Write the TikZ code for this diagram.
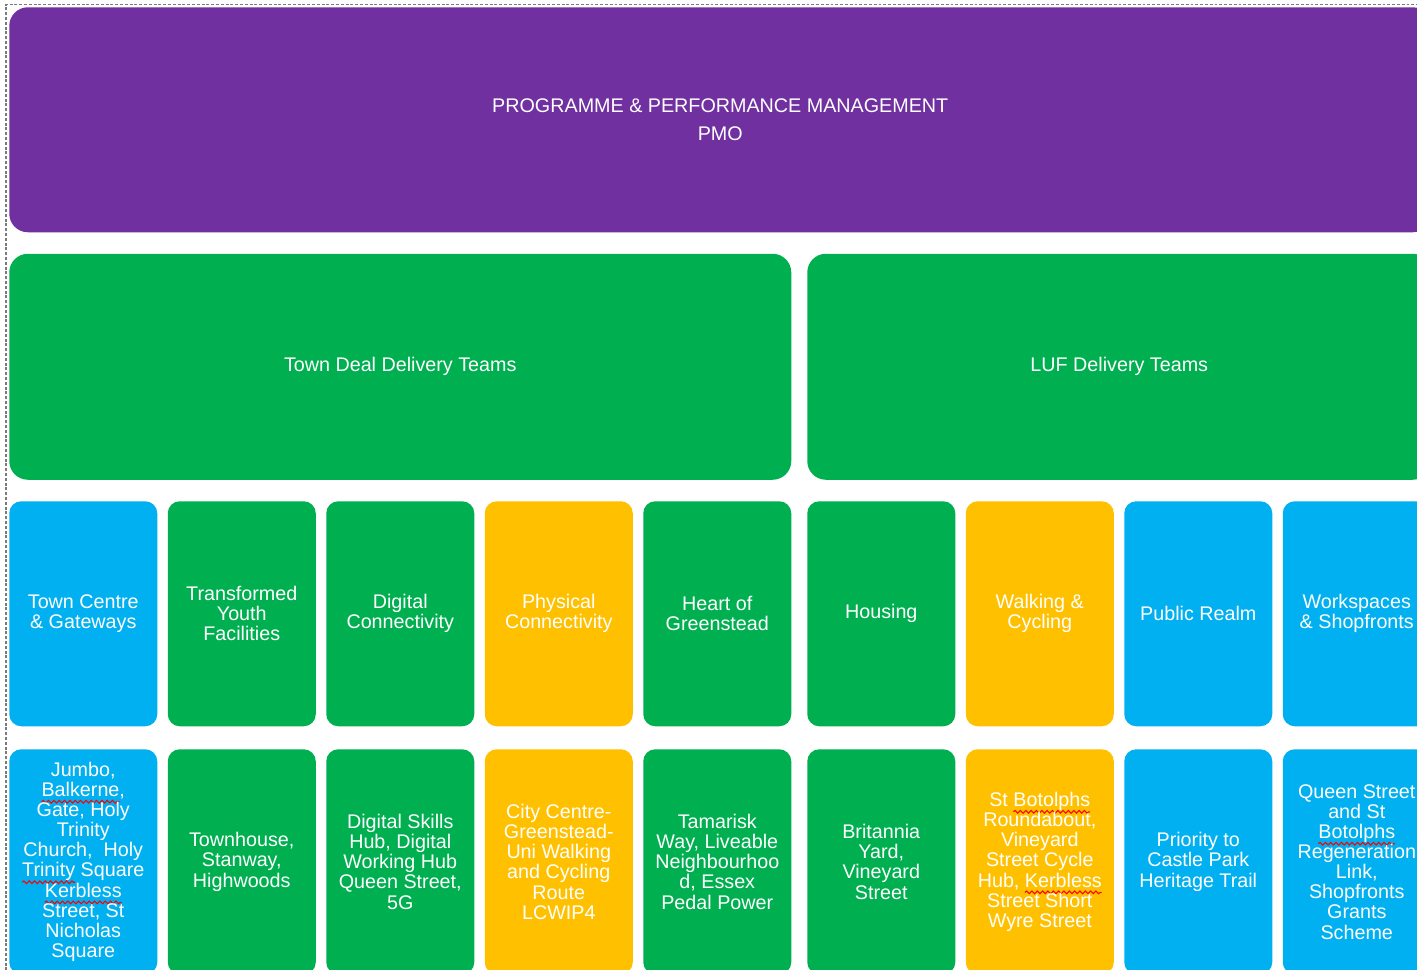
\documentclass[tikz,border=0pt]{standalone}
\usepackage{fontspec}
\setmainfont{Liberation Sans}
\usetikzlibrary{decorations.pathmorphing}
\definecolor{pmocol}{HTML}{7030A0}
\definecolor{grncol}{HTML}{00B050}
\definecolor{blucol}{HTML}{00B0F0}
\definecolor{ylwcol}{HTML}{FFC000}
\definecolor{framecol}{HTML}{7A7A7A}
\newcommand\spellerr[1]{\tikz[baseline=(w.base)]{\node[shape=rectangle,inner sep=0pt,outer sep=0pt,minimum width=0pt,minimum height=0pt,anchor=base,draw=none,fill=none,rounded corners=0pt](w){#1};\draw[overlay,red,line width=0.8pt,rounded corners=0pt,decorate,decoration={snake,amplitude=1pt,segment length=4pt}] ([yshift=-4pt]w.base west) -- ([yshift=-4pt]w.base east);}}
\tikzset{
  box/.style={shape=rectangle, draw=none, rounded corners=9pt, text=white, align=center,
    anchor=north west, minimum width=111pt, minimum height=168.75pt, inner sep=0pt,
    font=\fontsize{14.8pt}{15.1pt}\selectfont},
  bigbox/.style={box, rounded corners=14pt},
  purplebox/.style={bigbox, fill=pmocol, minimum width=1066.5pt},
  greenbig/.style={bigbox, fill=grncol, minimum height=169.5pt},
  bluebox/.style={box, fill=blucol},
  greenbox/.style={box, fill=grncol},
  yellowbox/.style={box, fill=ylwcol},
  frameline/.style={draw=framecol, line width=1pt, dash pattern=on 2.2pt off 1.4pt}
}
\begin{document}
\begin{tikzpicture}[x=0.75pt,y=-0.75pt]
\useasboundingbox (0,0) rectangle (1417,970);
\clip (0,0) rectangle (1417,970);
\fill[white] (0,0) rectangle (1417,970);
\coordinate (fb) at (6,980);
\coordinate (fc) at (6,4.5);
\coordinate (fr) at (1430,4.5);
\draw[frameline] (fb) -- (fc) -- (fr);

\node[purplebox] (pmo) at (9,7) {PROGRAMME \& PERFORMANCE MANAGEMENT\\[5.9pt]PMO};

\node[greenbig, minimum width=586.5pt] (td) at (9,253.5) {Town Deal Delivery Teams};
\node[greenbig, minimum width=468pt] (luf) at (807,253.5) {LUF Delivery Teams};

% row 3
\node[bluebox]   (t1) at (9,501)     {Town Centre\\\& Gateways};
\node[greenbox]  (t2) at (167.5,501) {Transformed\\Youth\\Facilities};
\node[greenbox]  (t3) at (326,501)   {Digital\\Connectivity};
\node[yellowbox] (t4) at (484.5,501) {Physical\\Connectivity};
\node[greenbox]  (t5) at (643,501)   {Heart of\\Greenstead};
\node[greenbox]  (t6) at (807,501)   {Housing};
\node[yellowbox] (t7) at (965.5,501) {Walking \&\\Cycling};
\node[bluebox]   (t8) at (1124,501)  {Public Realm};
\node[bluebox]   (t9) at (1282.5,501){Workspaces\\\& Shopfronts};

% row 4
\node[bluebox]   (d1) at (9,749)     {Jumbo,\\\spellerr{Balkerne},\\Gate, Holy\\Trinity\\Church,~ Holy\\\spellerr{Trinity} Square\\\spellerr{Kerbless}\\Street, St\\Nicholas\\Square};
\node[greenbox]  (d2) at (167.5,749) {Townhouse,\\Stanway,\\Highwoods};
\node[greenbox]  (d3) at (326,749)   {Digital Skills\\Hub, Digital\\Working Hub\\Queen Street,\\5G};
\node[yellowbox] (d4) at (484.5,749) {City Centre-\\Greenstead-\\Uni Walking\\and Cycling\\Route\\LCWIP4};
\node[greenbox]  (d5) at (643,749)   {Tamarisk\\Way, Liveable\\Neighbourhoo\\d, Essex\\Pedal Power};
\node[greenbox]  (d6) at (807,749)   {Britannia\\Yard,\\Vineyard\\Street};
\node[yellowbox] (d7) at (965.5,749) {St \spellerr{Botolphs}\\Roundabout,\\Vineyard\\Street Cycle\\Hub, \spellerr{Kerbless}\\Street Short\\Wyre Street};
\node[bluebox]   (d8) at (1124,749)  {Priority to\\Castle Park\\Heritage Trail};
\node[bluebox]   (d9) at (1282.5,749){Queen Street\\and St\\\spellerr{Botolphs}\\Regeneration\\Link,\\Shopfronts\\Grants\\Scheme};
\end{tikzpicture}
\end{document}
